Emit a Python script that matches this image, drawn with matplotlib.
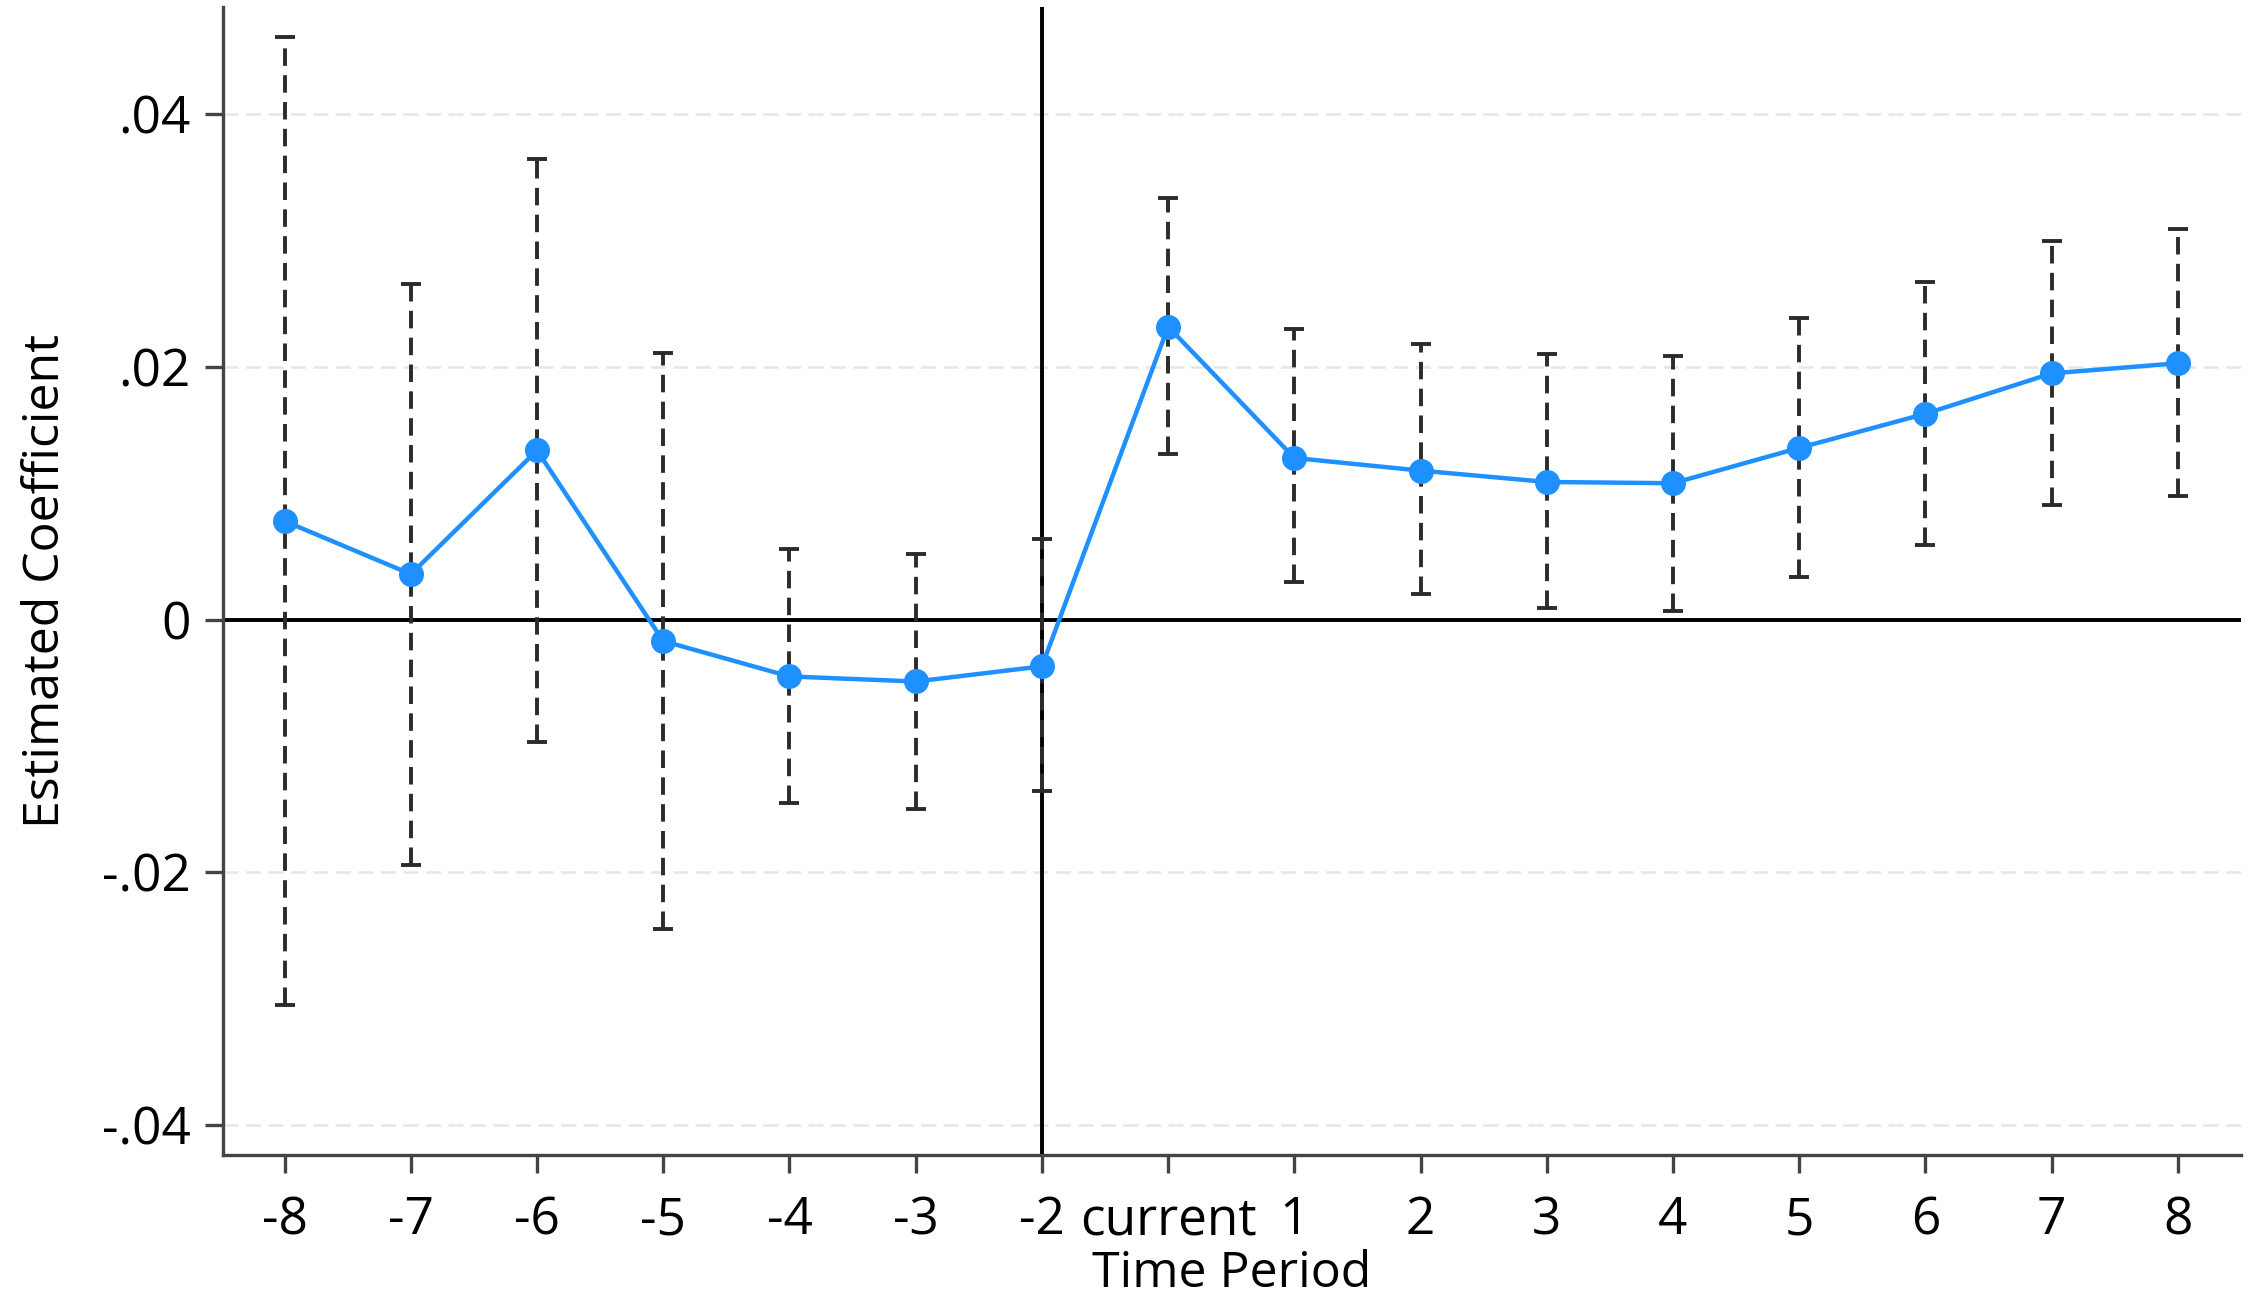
import matplotlib
matplotlib.use("Agg")
import matplotlib.pyplot as plt
import numpy as np

# event-study estimates
periods = ["-8", "-7", "-6", "-5", "-4", "-3", "-2", "current",
           "1", "2", "3", "4", "5", "6", "7", "8"]
coef = [0.0078, 0.0036, 0.0134, -0.0017, -0.0045, -0.0049, -0.0037, 0.0232,
        0.0128, 0.0118, 0.0109, 0.0108, 0.0136, 0.0163, 0.0195, 0.0203]
ci_low = [-0.0305, -0.0194, -0.0097, -0.0245, -0.0145, -0.0150, -0.0136, 0.0131,
          0.0030, 0.0020, 0.0009, 0.0007, 0.0034, 0.0059, 0.0091, 0.0098]
ci_high = [0.0461, 0.0266, 0.0365, 0.0211, 0.0056, 0.0052, 0.0064, 0.0334,
           0.0230, 0.0218, 0.0210, 0.0209, 0.0239, 0.0267, 0.0300, 0.0309]
yticks = [-0.04, -0.02, 0, 0.02, 0.04]
ytick_labels = ["-.04", "-.02", "0", ".02", ".04"]

plt.rcParams['font.family'] = ['Open Sans', 'DejaVu Sans']

fig = plt.figure(figsize=(22.5, 13), dpi=100)
ax = fig.add_axes([0.099, 0.1115, 0.897, 0.883])

x = np.arange(len(periods))
coef = np.array(coef)
lo = coef - np.array(ci_low)
hi = np.array(ci_high) - coef

for g in [-0.04, -0.02, 0.02, 0.04]:
    ax.axhline(g, color="#e6e6e6", lw=1.8, ls=(0, (6, 3)), zorder=0)
ax.axhline(0, color="black", lw=2.8, zorder=1)
ax.axvline(6, color="black", lw=2.8, zorder=1)

eb = ax.errorbar(x, coef, yerr=[lo, hi], fmt="none", ecolor="#2b2b2b",
                 elinewidth=2.8, capsize=7, capthick=2.8, zorder=2)
for lc in eb[2]:
    lc.set_linestyle((0, (4.5, 2.4)))

ax.plot(x, coef, color="#1e90ff", lw=3.2, marker="o", markersize=17, zorder=3)

ax.set_xlim(-0.49, 15.5)
ax.set_ylim(-0.0424, 0.0485)
ax.set_xticks(x)
ax.set_xticklabels(periods)
ax.set_yticks(yticks)
ax.set_yticklabels(ytick_labels)
ax.tick_params(axis="both", labelsize=37, length=13, width=2.4, color="#444444")
ax.tick_params(axis="x", pad=16)
ax.tick_params(axis="y", pad=10)

for s in ["top", "right"]:
    ax.spines[s].set_visible(False)
for s in ["left", "bottom"]:
    ax.spines[s].set_linewidth(2.4)
    ax.spines[s].set_color("#444444")

ax.set_xlabel("Time Period", fontsize=36, labelpad=2)
ax.set_ylabel("Estimated Coefficient", fontsize=36, labelpad=22)

fig.savefig("out.png", dpi=100)
